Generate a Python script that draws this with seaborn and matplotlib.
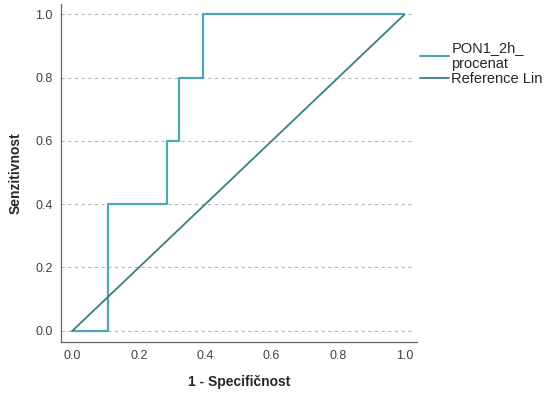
import numpy as np
import pandas as pd
import matplotlib
matplotlib.use("Agg")
import matplotlib.pyplot as plt
import seaborn as sns

# ROC coordinates (1 - specificity, sensitivity); 28 negatives, 5 positives
fpr = [0.0, 3/28, 3/28, 8/28, 8/28, 9/28, 9/28, 11/28, 11/28, 1.0]
tpr = [0.0, 0.0, 0.4, 0.4, 0.6, 0.6, 0.8, 0.8, 1.0, 1.0]
ref_x = [0.0, 1.0]
ref_y = [0.0, 1.0]
ticks = [0.0, 0.2, 0.4, 0.6, 0.8, 1.0]

roc = pd.DataFrame({"x": fpr, "y": tpr})
ref = pd.DataFrame({"x": ref_x, "y": ref_y})

sns.set_style("white")
plt.rcParams['font.family'] = ['Liberation Sans', 'DejaVu Sans']

fig = plt.figure(figsize=(5.44, 3.96), dpi=100)
ax = fig.add_axes([0.1121, 0.1371, 0.6544, 0.8528])

ax.hlines(ticks, -0.035, 1.02, color='#b8b8b8', ls=(0, (3, 3)), lw=0.8, zorder=0)

sns.lineplot(data=roc, x="x", y="y", sort=False, estimator=None, ax=ax,
             color='#4fa6b4', lw=1.6, label="PON1_2h_\nprocenat")
sns.lineplot(data=ref, x="x", y="y", sort=False, estimator=None, ax=ax,
             color='#3a7e84', lw=1.3, label="Reference Lin")

ax.set_xlim(-0.0346, 1.0377)
ax.set_ylim(-0.0348, 1.0332)
ax.set_xticks(ticks)
ax.set_yticks(ticks)
ax.set_xticklabels([f"{t:.1f}" for t in ticks], fontsize=9, color='#404040')
ax.set_yticklabels([f"{t:.1f}" for t in ticks], fontsize=9, color='#404040')
ax.tick_params(length=0, pad=6)
ax.set_xlabel("1 - Specifičnost", fontsize=10, fontweight='bold', labelpad=9)
ax.set_ylabel("Senzitivnost", fontsize=10, fontweight='bold', labelpad=9)

for s in ['top', 'right']:
    ax.spines[s].set_visible(False)
for s in ['left', 'bottom']:
    ax.spines[s].set_color('#666666')
    ax.spines[s].set_linewidth(0.9)

ax.legend(loc='upper left', bbox_to_anchor=(0.772, 0.897),
          bbox_transform=fig.transFigure, frameon=False,
          fontsize=10.5, handlelength=2.0, handletextpad=0.15, labelspacing=0.1,
          borderaxespad=0, borderpad=0)

fig.savefig("out.png", dpi=100)
